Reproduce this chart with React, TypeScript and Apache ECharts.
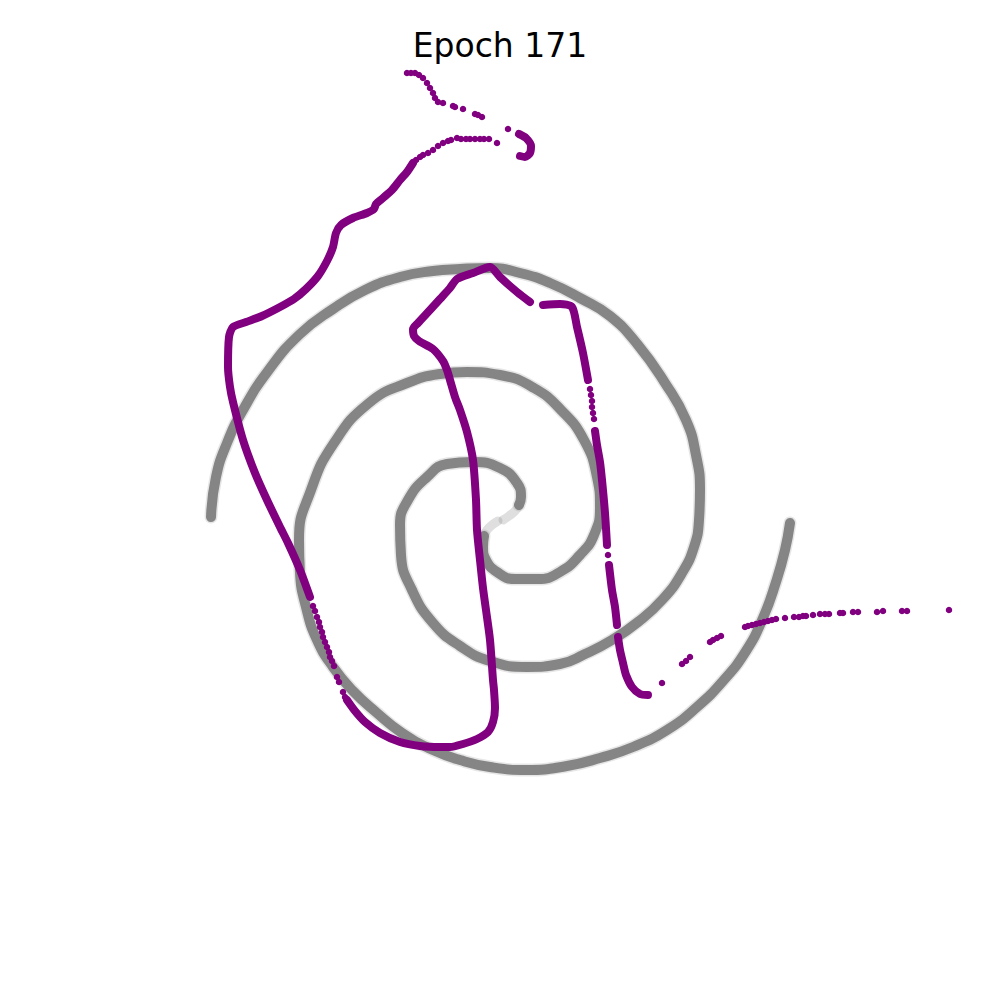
import React, { useEffect, useRef } from "react";
import * as echarts from "echarts";

const titleText = "Epoch 171";

// Reference spiral (two arms); x to the right, y downward
const armAFaint: number[][] = [[503, 520], [509, 516], [515, 511], [519, 505]];
const armA: number[][] = [
  [519, 505], [521, 497], [517, 483], [500, 468], [473, 462], [447, 464], [427, 477], [408, 500],
  [400, 525], [401, 555], [412, 590], [433, 623], [460, 646], [490, 661], [527, 667], [560, 664],
  [585, 654], [612, 640], [638, 622], [663, 599], [682, 573], [694, 547], [699, 520], [700, 490],
  [696, 455], [686, 420], [665, 383], [638, 345], [610, 316], [580, 298], [550, 283], [520, 273],
  [490, 268], [460, 269], [433, 271], [400, 277], [365, 290], [333, 309], [300, 334], [268, 371],
  [243, 410], [227, 443], [216, 477], [211, 517],
];
const armBFaint: number[][] = [[498, 521], [492, 525], [487, 530], [484, 536]];
const armB: number[][] = [
  [484, 536], [483, 547], [486, 560], [497, 572], [515, 579], [538, 579], [560, 572], [580, 555],
  [594, 535], [600, 507], [597, 477], [584, 440], [561, 410], [534, 388], [500, 375], [467, 372],
  [440, 374], [407, 383], [369, 403], [334, 443], [311, 490], [299, 540], [300, 573], [306, 607],
  [317, 640], [333, 667], [353, 691], [377, 713], [402, 733], [433, 750], [460, 760], [490, 767],
  [527, 770], [567, 766], [600, 758], [633, 747], [667, 730], [697, 707], [723, 681], [746, 651],
  [763, 618], [776, 582], [785, 550], [790, 523],
];

// Generated curve (purple), in path order
const curveDotsTop: number[][] = [
  [407, 73], [411, 73], [415, 73], [419, 75], [423, 78], [427, 83], [430, 88], [433, 93], [435, 98],
  [438, 102], [443, 103], [453, 106], [455, 107], [463, 109], [475, 114], [478, 115], [482, 117], [508, 129],
];
const curveHook: number[][] = [
  [519, 134], [526, 138], [531, 146], [530, 153], [525, 157], [520, 156],
];
const curveDotsUpper: number[][] = [
  [497, 143], [489, 139], [484, 139], [480, 139], [475, 139], [470, 139], [466, 139], [461, 139],
  [457, 138], [451, 140], [448, 141], [443, 143], [438, 146], [433, 150], [428, 153], [423, 155],
  [420, 157], [416, 160],
];
const curveLeftLoop: number[][] = [
  [413, 163], [407, 172], [400, 180], [392, 190], [383, 198], [376, 204], [374, 209], [367, 213],
  [353, 218], [341, 225], [336, 233], [333, 247], [327, 261], [318, 276], [306, 289], [294, 299],
  [280, 307], [262, 316], [246, 322], [233, 327], [229, 337], [228, 367], [230, 387], [233, 402],
  [243, 440], [255, 473], [267, 500], [280, 527], [288, 543], [300, 570], [310, 597],
];
const curveDotsLeft: number[][] = [
  [313, 606], [315, 611], [317, 617], [319, 622], [320, 627], [322, 632], [323, 637], [325, 642],
  [327, 647], [329, 652], [330, 657], [332, 661], [334, 666], [337, 677], [339, 682], [343, 692],
  [345, 697],
];
const curveMiddle: number[][] = [
  [347, 700], [355, 711], [365, 722], [380, 733], [400, 742], [420, 746], [440, 747], [450, 747],
  [463, 744], [477, 739], [488, 732], [493, 722], [495, 708], [494, 690], [493, 680], [490, 640],
  [486, 610], [483, 588], [480, 560], [477, 530], [476, 500], [473, 460], [467, 432], [460, 410],
  [455, 397], [450, 380], [447, 370], [443, 361], [433, 349], [419, 341], [414, 336], [413, 329],
  [418, 323], [430, 310], [440, 299], [450, 288], [457, 279], [473, 273], [490, 267], [500, 277],
  [517, 292], [530, 302],
];
const curveRightA: number[][] = [
  [543, 305], [560, 304], [572, 307], [577, 327], [583, 353], [588, 380],
];
const curveDotsRightA: number[][] = [
  [590, 389], [591, 395], [592, 401], [592, 407], [593, 413], [594, 419],
];
const curveRightB: number[][] = [
  [595, 431], [597, 445], [600, 462], [602, 480], [605, 513], [607, 545],
];
const curveDotsRightB: number[][] = [[608, 555]];
const curveRightC: number[][] = [
  [609, 565], [612, 590], [615, 607], [617, 625],
];
const curveRightD: number[][] = [
  [618, 637], [620, 650], [623, 663], [626, 675], [632, 687], [640, 694], [648, 695],
];
const curveDotsTail: number[][] = [
  [662, 683], [682, 664], [686, 661], [690, 657], [710, 642], [713, 640], [717, 638], [721, 636],
  [745, 627], [748, 626], [752, 625], [756, 624], [760, 623], [764, 622], [768, 621], [772, 620],
  [776, 619], [785, 618], [794, 617], [799, 617], [803, 616], [806, 616], [813, 615], [820, 614],
  [825, 614], [829, 614], [840, 613], [843, 613], [853, 612], [858, 612], [877, 612], [883, 611],
  [902, 611], [907, 611], [949, 610],
];

const GRAY = "#808080";
const PURPLE = "#800080";

export default function App() {
  const ref = useRef<HTMLDivElement>(null);
  useEffect(() => {
    if (!ref.current) return;
    const chart = echarts.init(ref.current, null, { renderer: "svg" });

    const line = (data: number[][], color: string, width: number, opacity: number, smooth: number | boolean, z: number) => ({
      type: "line",
      data,
      symbol: "none",
      showSymbol: false,
      smooth,
      silent: true,
      z,
      lineStyle: { color, width, opacity, cap: "round", join: "round" },
    });
    const dots = (data: number[][], z: number) => ({
      type: "scatter",
      data,
      symbol: "circle",
      symbolSize: 6.5,
      silent: true,
      z,
      itemStyle: { color: PURPLE, opacity: 1 },
    });

    const series: any[] = [];
    // spiral: soft halo + core
    [armA, armB].forEach((arm) => {
      series.push(line(arm, GRAY, 13, 0.2, 0.5, 1));
      series.push(line(arm, GRAY, 10, 0.95, 0.5, 2));
    });
    [armAFaint, armBFaint].forEach((arm) => {
      series.push(line(arm, GRAY, 9, 0.25, 0.5, 2));
    });
    // purple curve
    [curveHook, curveLeftLoop, curveMiddle, curveRightA, curveRightB, curveRightC, curveRightD].forEach((seg) => {
      series.push(line(seg, PURPLE, 8, 1, 0.25, 5));
    });
    [curveDotsTop, curveDotsUpper, curveDotsLeft, curveDotsRightA, curveDotsRightB, curveDotsTail].forEach((d) => {
      series.push(dots(d, 6));
    });

    chart.setOption({
      animation: false,
      backgroundColor: "#ffffff",
      title: {
        text: titleText,
        left: "center",
        top: 24,
        textStyle: {
          fontFamily: "DejaVu Sans",
          fontSize: 33,
          fontWeight: "normal",
          color: "#000000",
        },
      },
      grid: { left: 0, right: 0, top: 0, bottom: 0 },
      xAxis: { type: "value", min: 0, max: 1000, show: false },
      yAxis: { type: "value", min: 0, max: 1000, inverse: true, show: false },
      series,
    });
    return () => chart.dispose();
  }, []);
  return (
    <div
      ref={ref}
      style={{ position: "absolute", left: 0, top: 0, width: 1000, height: 1000 }}
    />
  );
}
